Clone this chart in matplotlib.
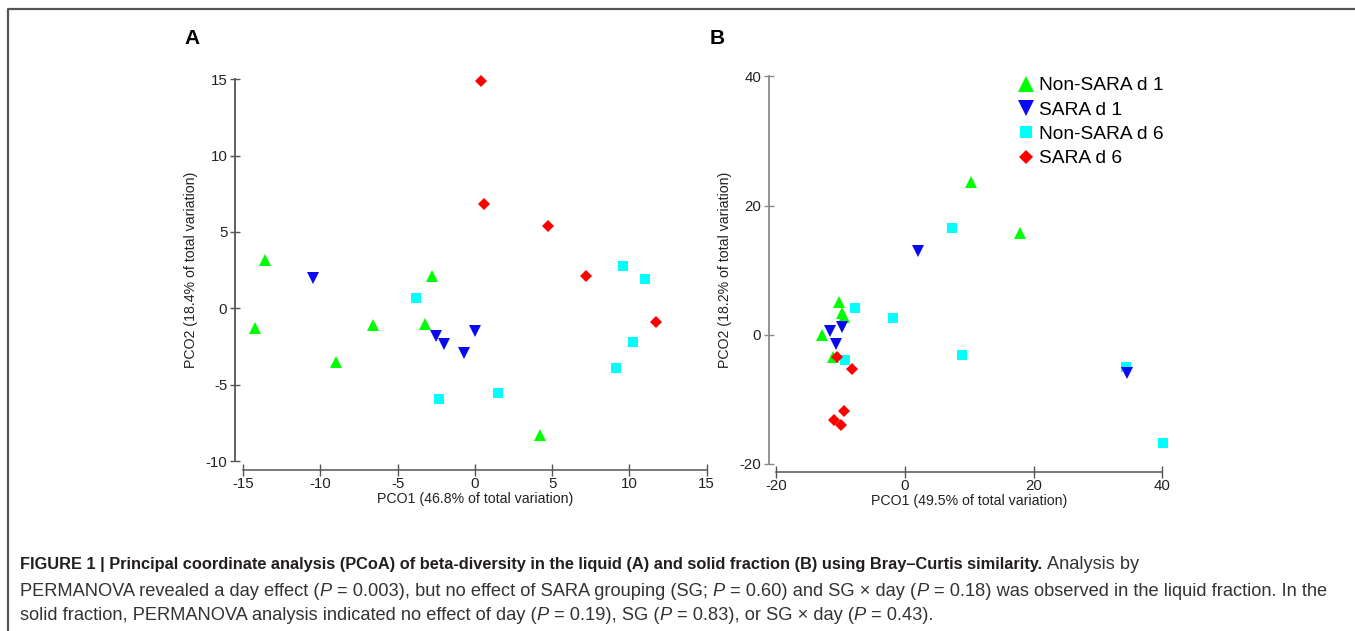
import matplotlib
matplotlib.use("Agg")
import matplotlib.pyplot as plt
from matplotlib.lines import Line2D
from matplotlib.transforms import blended_transform_factory
from matplotlib.font_manager import FontProperties

# Panel A - liquid fraction
a_green_x = [-13.6, -14.2, -9.0, -6.6, -2.8, -3.2, 4.2]
a_green_y = [3.2, -1.3, -3.5, -1.1, 2.1, -1.0, -8.3]
a_blue_x = [-10.5, -2.5, -2.0, 0.0, -0.7]
a_blue_y = [2.0, -1.8, -2.3, -1.5, -2.9]
a_cyan_x = [-3.8, -2.3, 1.5, 9.6, 11.0, 10.2, 9.1]
a_cyan_y = [0.7, -5.9, -5.5, 2.8, 1.9, -2.2, -3.9]
a_red_x = [0.4, 0.6, 4.7, 7.2, 11.7]
a_red_y = [14.9, 6.8, 5.4, 2.1, -0.9]

# Panel B - solid fraction
b_green_x = [-10.2, -9.8, -9.5, -12.9, -11.2, 10.2, 17.9]
b_green_y = [5.1, 3.4, 2.8, -0.1, -3.4, 23.7, 15.8]
b_blue_x = [2.0, -11.7, -9.8, -10.7, 34.6]
b_blue_y = [13.0, 0.6, 1.2, -1.5, -6.0]
b_cyan_x = [-7.7, -1.8, -9.4, 7.3, 8.8, 34.4, 40.1]
b_cyan_y = [4.1, 2.6, -4.0, 16.5, -3.2, -5.0, -16.8]
b_red_x = [-10.6, -8.3, -9.5, -11.1, -10.0]
b_red_y = [-3.4, -5.4, -11.8, -13.2, -14.0]

group_names = ["Non-SARA d 1", "SARA d 1", "Non-SARA d 6", "SARA d 6"]
a_xticks = [-15, -10, -5, 0, 5, 10, 15]
a_yticks = [-10, -5, 0, 5, 10, 15]
b_xticks = [-20, 0, 20, 40]
b_yticks = [-20, 0, 20, 40]
a_xlabel = "PCO1 (46.8% of total variation)"
a_ylabel = "PCO2 (18.4% of total variation)"
b_xlabel = "PCO1 (49.5% of total variation)"
b_ylabel = "PCO2 (18.2% of total variation)"

styles = {
    "Non-SARA d 1": dict(marker="^", color="#00ff00", ms=9),
    "SARA d 1": dict(marker="v", color="#0a0af0", ms=9),
    "Non-SARA d 6": dict(marker="s", color="#00ffff", ms=6.5),
    "SARA d 6": dict(marker="D", color="#ff0000", ms=5.8),
}

plt.rcParams["font.family"] = ["Liberation Sans", "DejaVu Sans"]
plt.rcParams["axes.unicode_minus"] = False
W, H = 1355, 631
fig = plt.figure(figsize=(W / 100, H / 100), dpi=100)


def add_axes_px(x0, y0, x1, y1):
    return fig.add_axes([x0 / W, 1 - y1 / H, (x1 - x0) / W, (y1 - y0) / H])


def style_axes(ax, xticks, yticks, xlabel, ylabel, left_color, bottom_color, ylab_x):
    for s in ["top", "right"]:
        ax.spines[s].set_visible(False)
    ax.spines["left"].set_bounds(yticks[0], yticks[-1])
    ax.spines["bottom"].set_bounds(xticks[0], xticks[-1])
    ax.spines["left"].set_color(left_color)
    ax.spines["bottom"].set_color(bottom_color)
    ax.spines["left"].set_linewidth(1.3)
    ax.spines["bottom"].set_linewidth(1.1)
    ax.set_xticks(xticks)
    ax.set_yticks(yticks)
    ax.tick_params(axis="x", direction="inout", length=8, width=1, color=bottom_color,
                   labelsize=10.8, labelcolor="#222222", pad=1)
    ax.tick_params(axis="y", direction="inout", length=7, width=1, color=left_color,
                   labelsize=10.8, labelcolor="#222222", pad=2)
    ax.set_xlabel(xlabel, fontsize=10.2, color="#222222")
    ax.set_ylabel(ylabel, fontsize=10.2, color="#222222")
    mid_x = (xticks[0] + xticks[-1]) / 2
    mid_y = (yticks[0] + yticks[-1]) / 2
    ax.xaxis.set_label_coords(mid_x, -0.055, transform=blended_transform_factory(ax.transData, ax.transAxes))
    ax.yaxis.set_label_coords(ylab_x, mid_y, transform=blended_transform_factory(ax.transAxes, ax.transData))


def draw_groups(ax, xs, ys):
    # draw order: green, cyan, blue, red
    for name in ["Non-SARA d 1", "Non-SARA d 6", "SARA d 1", "SARA d 6"]:
        st = styles[name]
        ax.plot(xs[name], ys[name], linestyle="none", marker=st["marker"], ms=st["ms"],
                color=st["color"], markeredgewidth=0)


axA = add_axes_px(235, 72, 712, 470)
axA.set_xlim(-15.52, 15.34)
axA.set_ylim(-10.56, 15.46)
draw_groups(axA,
            {"Non-SARA d 1": a_green_x, "SARA d 1": a_blue_x, "Non-SARA d 6": a_cyan_x, "SARA d 6": a_red_x},
            {"Non-SARA d 1": a_green_y, "SARA d 1": a_blue_y, "Non-SARA d 6": a_cyan_y, "SARA d 6": a_red_y})
style_axes(axA, a_xticks, a_yticks, a_xlabel, a_ylabel, "#555555", "#555555", -0.078)

axB = add_axes_px(769, 70, 1168, 471.7)
axB.set_xlim(-21.15, 40.9)
axB.set_ylim(-21.24, 41.0)
draw_groups(axB,
            {"Non-SARA d 1": b_green_x, "SARA d 1": b_blue_x, "Non-SARA d 6": b_cyan_x, "SARA d 6": b_red_x},
            {"Non-SARA d 1": b_green_y, "SARA d 1": b_blue_y, "Non-SARA d 6": b_cyan_y, "SARA d 6": b_red_y})
style_axes(axB, b_xticks, b_yticks, b_xlabel, b_ylabel, "#8a8a8a", "#555555", -0.092)

handles = [Line2D([], [], linestyle="none", marker=styles[n]["marker"], ms=styles[n]["ms"] * 1.25,
                  color=styles[n]["color"], markeredgewidth=0) for n in group_names]
fig.legend(handles, group_names, loc="upper left", bbox_to_anchor=(1016 / W, 1 - 77 / H),
           frameon=False, fontsize=13.8, handlelength=1.0, handletextpad=0.2,
           labelspacing=0.36, borderpad=0, borderaxespad=0)

fig.text(192 / W, 1 - 39 / H, "A", fontsize=15, fontweight="bold", ha="center", va="center")
fig.text(717 / W, 1 - 39 / H, "B", fontsize=15, fontweight="bold", ha="center", va="center")

# frame around the figure
fig.add_artist(Line2D([8 / W, 8 / W, 1.0], [0.0, 1 - 9 / H, 1 - 9 / H], transform=fig.transFigure,
                      color="#555555", lw=1.6))

# caption
cap_family = ["Liberation Sans Narrow", "Liberation Sans", "DejaVu Sans"]
cap_lines = [
    [("FIGURE 1 | Principal coordinate analysis (PCoA) of beta-diversity in the liquid (A) and solid "
      "fraction (B) using Bray\u2013Curtis similarity.", "b"), (" Analysis by", "r")],
    [("PERMANOVA revealed a day effect (", "r"), ("P", "i"), (" = 0.003), but no effect of SARA grouping (SG; ", "r"),
     ("P", "i"), (" = 0.60) and SG \u00d7 day (", "r"), ("P", "i"),
     (" = 0.18) was observed in the liquid fraction. In the", "r")],
    [("solid fraction, PERMANOVA analysis indicated no effect of day (", "r"), ("P", "i"), (" = 0.19), SG (", "r"),
     ("P", "i"), (" = 0.83), or SG \u00d7 day (", "r"), ("P", "i"), (" = 0.43).", "r")],
]
cap_baselines = [569, 596, 620]
renderer = fig.canvas.get_renderer()


def seg_props(style, size, bold_size):
    return FontProperties(family=cap_family, size=bold_size if style == "b" else size,
                          weight="bold" if style == "b" else "normal",
                          style="italic" if style == "i" else "normal")


def text_width(s, props):
    t = fig.text(0, 0, s, fontproperties=props)
    w = t.get_window_extent(renderer).width
    t.remove()
    return w


def line_width(segs, size, bold_size, draw_at=None):
    x = 20.0
    for s, st in segs:
        props = seg_props(st, size, bold_size)
        sp = text_width("x x", props) - text_width("xx", props)
        lead = len(s) - len(s.lstrip(" "))
        trail = len(s) - len(s.rstrip(" "))
        core = s.strip(" ")
        x += lead * sp
        if draw_at is not None:
            t = fig.text(x / W, 1 - draw_at / H, core, fontproperties=props, va="baseline",
                         color="#231f20" if st == "b" else "#333333")
            w = t.get_window_extent(renderer).width
        else:
            w = text_width(core, props)
        x += w + trail * sp
    return x


# fit the caption size so that the lines span the same widths as in the reference
ref_size = 12.0
cap_size = ref_size * (1330 - 20) / (line_width(cap_lines[1], ref_size, ref_size) - 20)
tail = line_width([(" Analysis by", "r")], cap_size, cap_size) - 20
bold_w = line_width(cap_lines[0][:1], cap_size, ref_size) - 20
bold_size = ref_size * (1138 - 20 - tail) / bold_w
for segs, yb in zip(cap_lines, cap_baselines):
    line_width(segs, cap_size, bold_size, draw_at=yb)

fig.savefig("out.png", dpi=100)
